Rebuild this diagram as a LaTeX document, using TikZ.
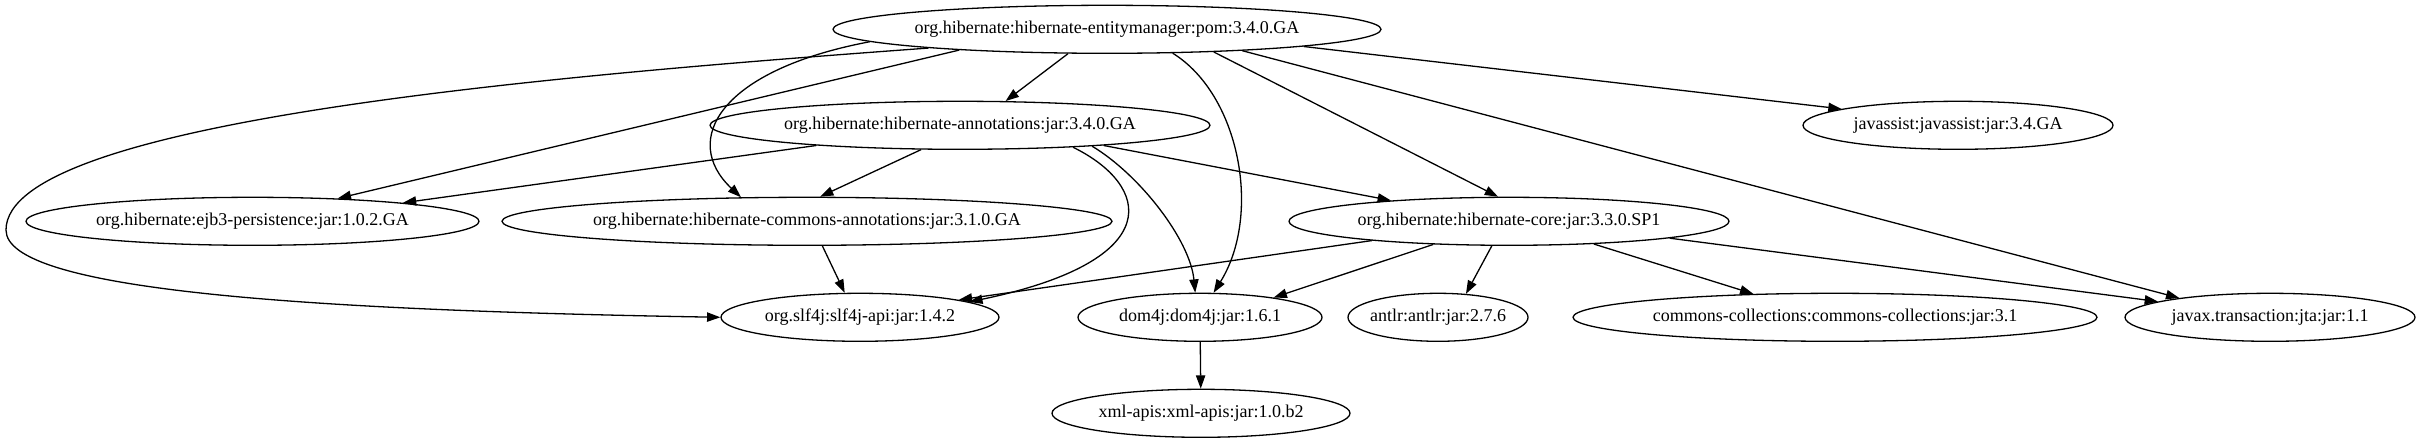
\documentclass[tikz,border=0pt]{standalone}
\usepackage{fontspec}
\setmainfont{Liberation Serif}
\usetikzlibrary{arrows.meta,shapes.geometric}
\begin{document}
\begin{tikzpicture}[x=1pt,y=-1pt,
  dep/.style={draw,ellipse,line width=1.3pt,inner sep=0pt,minimum height=48pt,
    font=\fontsize{18}{21.6}\selectfont},
  edge/.style={line width=1.3pt,-{Triangle[length=13.3pt,width=9.3pt]}}]
\fill[white] (0,0) rectangle (2420,443);
\useasboundingbox (0,0) rectangle (2420,443);
% nodes
\node[dep,minimum width=548pt] (E)   at (1107,29.3)  {\makebox[0pt]{org.hibernate:hibernate-entitymanager:pom:3.4.0.GA}};
\node[dep,minimum width=500pt] (A)   at (960,125.3)  {\makebox[0pt]{org.hibernate:hibernate-annotations:jar:3.4.0.GA}};
\node[dep,minimum width=310pt] (J)   at (1958,125.3) {\makebox[0pt]{javassist:javassist:jar:3.4.GA}};
\node[dep,minimum width=453pt] (EJB) at (252.5,221.3) {\makebox[0pt]{org.hibernate:ejb3-persistence:jar:1.0.2.GA}};
\node[dep,minimum width=610pt] (CA)  at (807,221.3)  {\makebox[0pt]{org.hibernate:hibernate-commons-annotations:jar:3.1.0.GA}};
\node[dep,minimum width=440pt] (C)   at (1509,221.3) {\makebox[0pt]{org.hibernate:hibernate-core:jar:3.3.0.SP1}};
\node[dep,minimum width=278pt] (S)   at (860,317.3)  {\makebox[0pt]{org.slf4j:slf4j-api:jar:1.4.2}};
\node[dep,minimum width=244pt] (D)   at (1200,317.3) {\makebox[0pt]{dom4j:dom4j:jar:1.6.1}};
\node[dep,minimum width=180pt] (AN)  at (1438,317.3) {\makebox[0pt]{antlr:antlr:jar:2.7.6}};
\node[dep,minimum width=524pt] (CC)  at (1835,317.3) {\makebox[0pt]{commons-collections:commons-collections:jar:3.1}};
\node[dep,minimum width=290pt] (JTA) at (2270,317.3) {\makebox[0pt]{javax.transaction:jta:jar:1.1}};
\node[dep,minimum width=298pt] (X)   at (1201,413.3) {\makebox[0pt]{xml-apis:xml-apis:jar:1.0.b2}};
% edges from entitymanager
\draw[edge] (E.-148) -- (A.28.8);
\draw[edge] (E.-172.1) -- (EJB.15.8);
\draw[edge] (E.-177) .. controls (720,70) and (680,140) .. (CA.160.5);
\draw[edge] (E.-174) .. controls (560,75) and (6,120) .. (6,230)
            .. controls (6,290) and (300,310) .. (S.180);
\draw[edge] (E.-20.4) .. controls (1240,95) and (1262,215) .. (D.61.4);
\draw[edge] (E.-12.5) -- (C.114.1);
\draw[edge] (E.-9.9) -- (JTA.168.6);
\draw[edge] (E.-5.5) -- (J.172.5);
% edges from annotations
\draw[edge] (A.-172.4) -- (EJB.7);
\draw[edge] (A.-148.1) -- (CA.62.7);
\draw[edge] (A.-11.7) .. controls (1150,185) and (1170,260) .. (S.8);
\draw[edge] (A.-9.1) .. controls (1140,175) and (1190,240) .. (D.101.8);
\draw[edge] (A.-8.1) -- (C.170.7);
% edges from commons-annotations
\draw[edge] (CA.-58) -- (S.122.2);
% edges from core
\draw[edge] (C.-172.2) -- (S.10);
\draw[edge] (C.-163.2) -- (D.15.7);
\draw[edge] (C.-125.4) -- (AN.40.3);
\draw[edge] (C.-15.8) -- (CC.164.3);
\draw[edge] (C.-6.2) -- (JTA.172.1);
% dom4j
\draw[edge] (D) -- (X);
\end{tikzpicture}
\end{document}
